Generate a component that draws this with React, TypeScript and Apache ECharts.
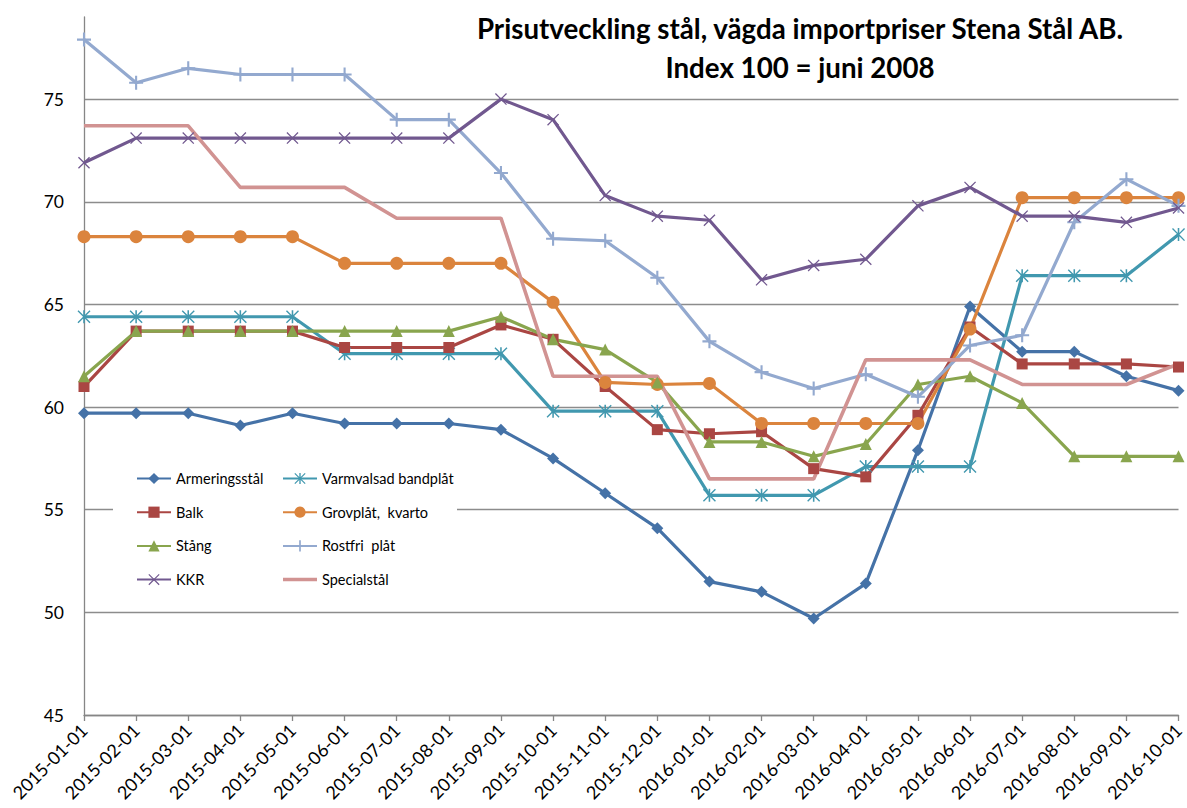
import React, { useEffect, useRef } from "react";
import * as echarts from "echarts";

const categories = [
  "2015-01-01", "2015-02-01", "2015-03-01", "2015-04-01", "2015-05-01", "2015-06-01",
  "2015-07-01", "2015-08-01", "2015-09-01", "2015-10-01", "2015-11-01", "2015-12-01",
  "2016-01-01", "2016-02-01", "2016-03-01", "2016-04-01", "2016-05-01", "2016-06-01",
  "2016-07-01", "2016-08-01", "2016-09-01", "2016-10-01",
];

const armering = [59.7, 59.7, 59.7, 59.1, 59.7, 59.2, 59.2, 59.2, 58.9, 57.5, 55.8, 54.1, 51.5, 51.0, 49.7, 51.4, 57.9, 64.9, 62.7, 62.7, 61.5, 60.8];
const varmvalsad = [64.4, 64.4, 64.4, 64.4, 64.4, 62.6, 62.6, 62.6, 62.6, 59.8, 59.8, 59.8, 55.7, 55.7, 55.7, 57.1, 57.1, 57.1, 66.4, 66.4, 66.4, 68.4];
const balk = [61.0, 63.7, 63.7, 63.7, 63.7, 62.9, 62.9, 62.9, 64.0, 63.3, 61.0, 58.9, 58.7, 58.8, 57.0, 56.6, 59.6, 63.9, 62.1, 62.1, 62.1, 61.95];
const grovplat = [68.3, 68.3, 68.3, 68.3, 68.3, 67.0, 67.0, 67.0, 67.0, 65.1, 61.2, 61.1, 61.15, 59.2, 59.2, 59.2, 59.2, 63.8, 70.2, 70.2, 70.2, 70.2];
const stang = [61.5, 63.7, 63.7, 63.7, 63.7, 63.7, 63.7, 63.7, 64.4, 63.3, 62.8, 61.2, 58.3, 58.3, 57.6, 58.2, 61.1, 61.5, 60.2, 57.6, 57.6, 57.6];
const rostfri = [77.9, 75.8, 76.5, 76.2, 76.2, 76.2, 74.0, 74.0, 71.4, 68.2, 68.1, 66.3, 63.2, 61.7, 60.9, 61.6, 60.5, 63.0, 63.5, 69.0, 71.1, 69.8];
const kkr = [71.9, 73.1, 73.1, 73.1, 73.1, 73.1, 73.1, 73.1, 75.0, 74.0, 70.3, 69.3, 69.1, 66.2, 66.9, 67.2, 69.8, 70.7, 69.3, 69.3, 69.0, 69.7];
const special = [73.7, 73.7, 73.7, 70.7, 70.7, 70.7, 69.2, 69.2, 69.2, 61.5, 61.5, 61.5, 56.5, 56.5, 56.5, 62.3, 62.3, 62.3, 61.1, 61.1, 61.1, 62.1];

const titleLine1 = "Prisutveckling stål, vägda importpriser Stena Stål AB.";
const titleLine2 = "Index 100 = juni 2008";

const PLUS = "path://M8.5,0h3v8.5h8.5v3h-8.5v8.5h-3v-8.5h-8.5v-3h8.5z";
const CROSS = "path://M1.5,0L10,8.5L18.5,0L20,1.5L11.5,10L20,18.5L18.5,20L10,11.5L1.5,20L0,18.5L8.5,10L0,1.5Z";
const STAR = "path://M1.5,0L10,8.5L18.5,0L20,1.5L11.5,10L20,18.5L18.5,20L10,11.5L1.5,20L0,18.5L8.5,10L0,1.5Z M8.8,0h2.4v20h-2.4z";
const LINE_ICON = "path://M0,0h34v3.5h-34z";

const FONT = "Lato";

function mk(name: string, data: number[], color: string, symbol: string, size: number, width = 3.2) {
  return {
    type: "line",
    name,
    data,
    symbol,
    symbolSize: size,
    showSymbol: symbol !== "none",
    lineStyle: { color, width },
    itemStyle: { color, borderWidth: 0 },
    emphasis: { disabled: true },
    z: 2,
  };
}

export default function App() {
  const ref = useRef<HTMLDivElement>(null);
  useEffect(() => {
    if (!ref.current) return;
    const chart = echarts.init(ref.current, null, { renderer: "svg" });
    const legendCommon = {
      orient: "vertical",
      top: 471,
      padding: 0,
      itemWidth: 34,
      itemHeight: 14,
      itemGap: 18.7,
      textStyle: { fontSize: 14.5, color: "#000", fontFamily: FONT },
      z: 4,
    };
    const titleStyle = { fontFamily: FONT, fontWeight: "bold", fontSize: 27.7, fill: "#000", align: "center", verticalAlign: "middle" };
    chart.setOption({
      animation: false,
      backgroundColor: "#ffffff",
      textStyle: { fontFamily: FONT },
      grid: { left: 84, right: 7, top: 17, bottom: 93, containLabel: false },
      xAxis: {
        type: "category",
        data: categories,
        boundaryGap: false,
        axisLine: { lineStyle: { color: "#868686", width: 1.3 } },
        axisTick: { show: true, length: 6, lineStyle: { color: "#868686", width: 1.3 } },
        axisLabel: { rotate: 45, fontSize: 18, color: "#000", margin: 12, fontFamily: FONT, interval: 0 },
        splitLine: { show: false },
      },
      yAxis: {
        type: "value",
        min: 45,
        max: 79,
        interval: 5,
        axisLine: { show: true, lineStyle: { color: "#868686", width: 1.3 } },
        axisTick: { show: false },
        axisLabel: { fontSize: 17.5, color: "#000", margin: 20, fontFamily: FONT, showMaxLabel: false },
        splitLine: { show: true, showMaxLine: false, lineStyle: { color: "#8c8c8c", width: 1.3 } },
      },
      graphic: [
        { type: "rect", z: 1, shape: { x: 113, y: 452, width: 344, height: 145 }, style: { fill: "#ffffff" } },
        { type: "text", z: 5, x: 800, y: 28, style: { ...titleStyle, text: titleLine1 } },
        { type: "text", z: 5, x: 800, y: 67, style: { ...titleStyle, text: titleLine2 } },
      ],
      legend: [
        { ...legendCommon, left: 136, data: ["Armeringsstål", "Balk", "Stång", "KKR"] },
        {
          ...legendCommon,
          left: 282,
          data: [
            "Varmvalsad bandplåt",
            "Grovplåt,  kvarto",
            "Rostfri  plåt",
            { name: "Specialstål", icon: LINE_ICON, itemStyle: { color: "#D19392" } },
          ],
        },
      ],
      series: [
        mk("Armeringsstål", armering, "#4572A7", "diamond", 12),
        mk("Varmvalsad bandplåt", varmvalsad, "#4198AF", STAR, 13),
        mk("Balk", balk, "#AA4643", "rect", 11),
        mk("Grovplåt,  kvarto", grovplat, "#DB843D", "circle", 13),
        mk("Stång", stang, "#89A54E", "triangle", 12),
        mk("Rostfri  plåt", rostfri, "#93A9CF", PLUS, 14),
        mk("KKR", kkr, "#71588F", CROSS, 12),
        mk("Specialstål", special, "#D19392", "none", 0, 3.6),
      ],
    });
    return () => chart.dispose();
  }, []);
  return <div ref={ref} style={{ position: "fixed", left: 0, top: 0, width: 1187, height: 808 }} />;
}
